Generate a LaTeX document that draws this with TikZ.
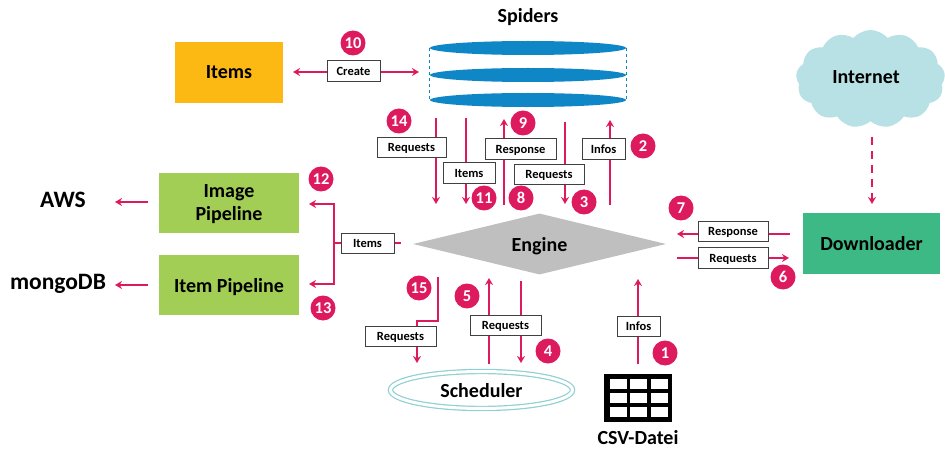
\documentclass[tikz,border=0pt]{standalone}
\usepackage{fontspec}
\setmainfont{Carlito}
\usetikzlibrary{arrows.meta, shapes.geometric, shapes.symbols}

\definecolor{flowred}{HTML}{DE1A5E}
\definecolor{discblue}{HTML}{0F86C6}
\definecolor{itemsyellow}{HTML}{FDB913}
\definecolor{pipegreen}{HTML}{A2CE55}
\definecolor{loadgreen}{HTML}{3DB985}
\definecolor{cloudblue}{HTML}{B7E1E5}
\definecolor{enginegray}{HTML}{BFBFBF}
\definecolor{schedteal}{HTML}{8FD0D2}

\tikzset{
    flow/.style={draw=flowred, line width=1.8pt, -{Stealth[length=7pt, width=8pt]}},
    plainflow/.style={draw=flowred, line width=1.8pt},
    tag/.style={draw=black!75, fill=white, line width=0.9pt, inner sep=0pt, minimum height=20.5, text depth=0pt, font=\bfseries\fontsize{12.5}{14}\selectfont},
    badge/.style={circle, fill=flowred, text=white, inner sep=0pt, minimum size=25, font=\bfseries\fontsize{16.5}{18}\selectfont},
    block/.style={inner sep=0pt, text depth=0pt, font=\bfseries\fontsize{20}{23}\selectfont, align=center},
    title/.style={inner sep=0pt, font=\bfseries\fontsize{20}{23}\selectfont},
    bigtitle/.style={inner sep=0pt, font=\bfseries\fontsize{23.5}{26}\selectfont},
    disc/.style={ellipse, fill=discblue, inner sep=0pt, minimum width=196, minimum height=14},
}

\begin{document}
\begin{tikzpicture}[x=1pt, y=-1pt]
    \useasboundingbox (0,0) rectangle (945,449);

    % Spiders
    \node[title] (spiderstitle) at (528,17) {Spiders};
    \node[disc] (disctop) at (528,48) {};
    \node[disc] (discmid) at (528,75) {};
    \node[disc] (discbot) at (528,100) {};
    \draw[discblue, line width=1.2pt, dashed] (disctop.west) -- (discbot.west);
    \draw[discblue, line width=1.2pt, dashed] (disctop.east) -- (discbot.east);

    % Blocks
    \node[block, fill=itemsyellow, minimum width=108, minimum height=61] (items) at (229,72.5) {Items};
    \node[block, fill=pipegreen, minimum width=140, minimum height=60] (imagepipe) at (229,203) {Image\\Pipeline};
    \node[block, fill=pipegreen, minimum width=140, minimum height=60] (itempipe) at (229,285) {Item Pipeline};
    \node[block, fill=loadgreen, minimum width=137, minimum height=61] (downloader) at (871.5,243.5) {Downloader};
    \node[block, diamond, fill=enginegray, minimum width=253, minimum height=61, aspect=4.1] (engine) at (539.5,244) {Engine};
    \node[block, cloud, cloud puffs=13, cloud puff arc=100, aspect=1.5, fill=cloudblue, minimum width=149, minimum height=98] (internet) at (870.5,79) {};
    \node[title] (internettext) at (866,77) {Internet};
    \node[bigtitle] (aws) at (63,200) {AWS};
    \node[bigtitle] (mongo) at (58,284) {mongoDB};

    % Scheduler
    \node[block, ellipse, draw=schedteal, line width=1.2pt, double=white, double distance=3pt, minimum width=182, minimum height=37] (scheduler) at (481.5,390) {Scheduler};

    % CSV table
    \node[fill=black, inner sep=0pt, minimum width=68, minimum height=48] (csv) at (638,398) {};
    \foreach \col in {618.5, 638.5, 659.5} {
        \foreach \row in {384, 398, 412} {
            \node[fill=white, inner sep=0pt, minimum width=17.5, minimum height=10] at (\col,\row) {};
        }
    }
    \node[title] (csvtext) at (638,438) {CSV-Datei};

    % Free ends
    \coordinate (createL) at (293,72);
    \coordinate (createR) at (419,72);
    \coordinate (reqAa) at (436,118);
    \coordinate (reqAb) at (436,204);
    \coordinate (itemAa) at (466,118);
    \coordinate (itemAb) at (466,204);
    \coordinate (respAa) at (504,205);
    \coordinate (respAb) at (504,119);
    \coordinate (reqBa) at (565,122);
    \coordinate (reqBb) at (565,204);
    \coordinate (infoAa) at (610,205);
    \coordinate (infoAb) at (610,120);
    \coordinate (respBa) at (790,234);
    \coordinate (respBb) at (677,234);
    \coordinate (reqCa) at (677,258);
    \coordinate (reqCb) at (789,258);
    \coordinate (reqDa) at (438,277);
    \coordinate (reqDb) at (417,321);
    \coordinate (reqDc) at (417,363);
    \coordinate (reqEa) at (489,364);
    \coordinate (reqEb) at (489,278);
    \coordinate (reqFa) at (521,281);
    \coordinate (reqFb) at (521,363);
    \coordinate (infoBa) at (638,364);
    \coordinate (infoBb) at (638,279);
    \coordinate (pipeM) at (334,243);
    \coordinate (pipeE) at (401,243);
    \coordinate (pipeT) at (309,204);
    \coordinate (pipeB) at (309,284);
    \coordinate (netA) at (872,137);
    \coordinate (netB) at (872,204);
    \coordinate (awsA) at (148,202);
    \coordinate (awsB) at (115,202);
    \coordinate (mongoA) at (148,285);
    \coordinate (mongoB) at (115,285);

    % Connectors
    \draw[flow, {Stealth[length=7pt, width=8pt]}-{Stealth[length=7pt, width=8pt]}] (createL) -- (createR);
    \draw[flow] (reqAa) -- (reqAb);
    \draw[flow] (itemAa) -- (itemAb);
    \draw[flow] (respAa) -- (respAb);
    \draw[flow] (reqBa) -- (reqBb);
    \draw[flow] (infoAa) -- (infoAb);
    \draw[flow] (respBa) -- (respBb);
    \draw[flow] (reqCa) -- (reqCb);
    \draw[flow] (reqDa) |- (reqDb) -- (reqDc);
    \draw[flow] (reqEa) -- (reqEb);
    \draw[flow] (reqFa) -- (reqFb);
    \draw[flow] (infoBa) -- (infoBb);
    \draw[plainflow] (pipeE) -- (pipeM);
    \draw[flow] (pipeM) |- (pipeT);
    \draw[flow] (pipeM) |- (pipeB);
    \draw[flow, dashed, dash pattern=on 8pt off 6pt] (netA) -- (netB);
    \draw[flow] (awsA) -- (awsB);
    \draw[flow] (mongoA) -- (mongoB);

    % Labels on the connectors
    \node[tag, minimum width=53] (create) at (353.5,71) {Create};
    \node[tag, minimum width=69] (reqA) at (411.5,147.5) {Requests};
    \node[tag, minimum width=52] (itemA) at (469,173) {Items};
    \node[tag, minimum width=71] (respA) at (520.5,149) {Response};
    \node[tag, minimum width=70] (reqB) at (549,174.5) {Requests};
    \node[tag, minimum width=43] (infoA) at (603.5,149) {Infos};
    \node[tag, minimum width=70] (respB) at (733,231.5) {Response};
    \node[tag, minimum width=70] (reqC) at (733,258) {Requests};
    \node[tag, minimum width=53] (itemB) at (367.5,243.5) {Items};
    \node[tag, minimum width=71] (reqD) at (400.5,336.5) {Requests};
    \node[tag, minimum width=71] (reqE) at (505.5,325.5) {Requests};
    \node[tag, minimum width=43] (infoB) at (638.5,326.5) {Infos};

    % Numbers
    \foreach \num/\xx/\yy in {1/665/353, 2/643/146, 3/584/202, 4/548/351, 5/467/296,
        6/783/277, 7/681/208, 8/521/198, 9/523/123, 10/353/43, 11/484/198,
        12/321/179, 13/323/308, 14/399/121, 15/419/288} {
        \node[badge] (badge\num) at (\xx,\yy) {\num};
    }
\end{tikzpicture}
\end{document}
